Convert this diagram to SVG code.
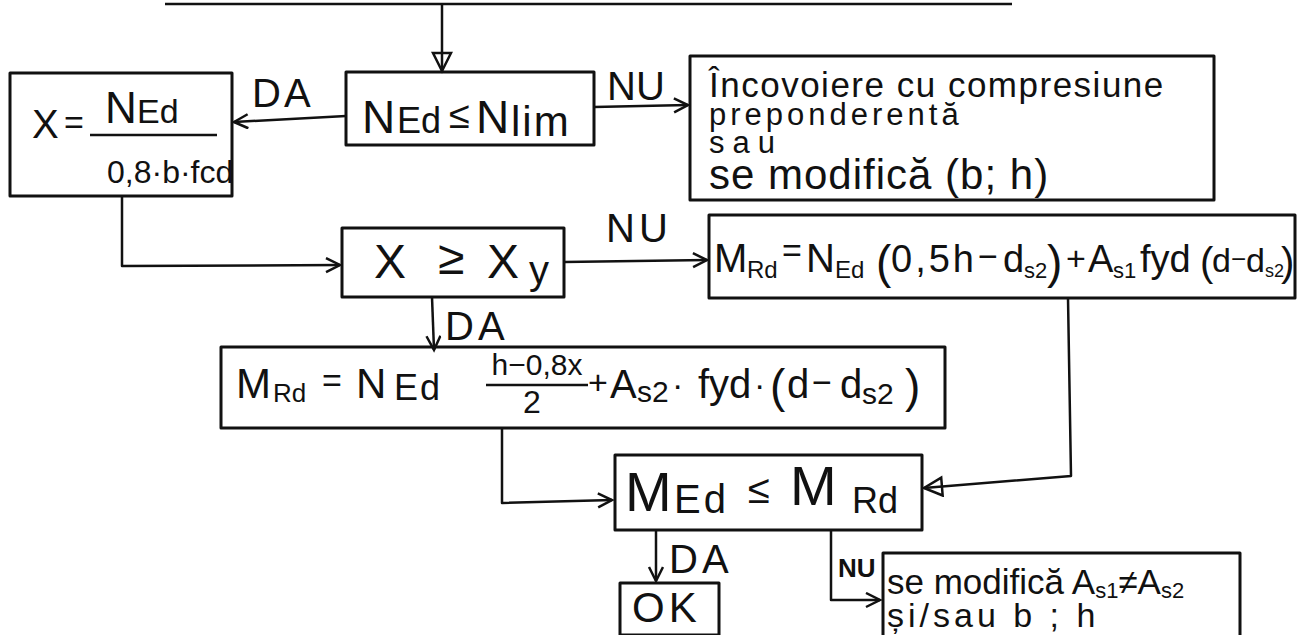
<svg xmlns="http://www.w3.org/2000/svg" width="1310" height="635" viewBox="0 0 1310 635">
<style>
.bx{fill:none;stroke:#111;stroke-width:3;stroke-linejoin:round}
.cn{fill:none;stroke:#111;stroke-width:2.5;stroke-linejoin:round}
text{font-family:"Liberation Sans",Arial,sans-serif;fill:#111}
.lbl{font-size:40px}
</style>
<defs>
<marker id="chev" markerUnits="userSpaceOnUse" markerWidth="20" markerHeight="20" refX="15" refY="8" orient="auto">
<path d="M1,1 L15,8 L1,15" fill="none" stroke="#111" stroke-width="2.5"/>
</marker>
<marker id="tri" markerUnits="userSpaceOnUse" markerWidth="24" markerHeight="24" refX="20" refY="11" orient="auto">
<path d="M2,2 L20,11 L2,20 Z" fill="none" stroke="#111" stroke-width="2.5"/>
</marker>
</defs>
<rect width="1310" height="635" fill="#fff"/>

<g id="connectors">
<path class="cn" d="M165,4 L1012,4" stroke-width="3"/>
<path class="cn" d="M442,5 L442,71" marker-end="url(#tri)"/>
<path class="cn" d="M346,116 L234,122" marker-end="url(#chev)"/>
<text class="lbl" x="252" y="107" letter-spacing="3">DA</text>
<path class="cn" d="M594,107 L688,105" marker-end="url(#chev)"/>
<text class="lbl" x="607" y="100">NU</text>
<path class="cn" d="M122,197 L122,266 L340,265" marker-end="url(#chev)"/>
<path class="cn" d="M564,262 L707,260" marker-end="url(#chev)"/>
<text class="lbl" x="606" y="242" letter-spacing="4">NU</text>
<path class="cn" d="M432,297 L434,350" marker-end="url(#chev)"/>
<text class="lbl" x="445" y="340" letter-spacing="4">DA</text>
<path class="cn" d="M502,428 L502,503 L612,500" marker-end="url(#chev)"/>
<path class="cn" d="M1068,298 L1071,476 L924,488" marker-end="url(#tri)"/>
<path class="cn" d="M656,530 L656,581" marker-end="url(#chev)"/>
<text x="669" y="573" font-size="40" letter-spacing="4">DA</text>
<path class="cn" d="M831,530 L831,600 L880,600" marker-end="url(#chev)"/>
<text x="838" y="577" font-size="26" font-weight="bold">NU</text>
</g>

<g id="node-nlim">
<rect class="bx" x="346" y="72" width="248" height="73"/>
<text x="362" y="133" font-size="46">N</text>
<text x="397" y="133" font-size="36">Ed</text>
<text x="449" y="128" font-size="38">≤</text>
<text x="476" y="133" font-size="46">N</text>
<text x="511" y="136" font-size="42" letter-spacing="2">lim</text>
</g>

<g id="node-x">
<rect class="bx" x="10" y="73" width="222" height="123"/>
<text x="32" y="138" font-size="40">X</text>
<text x="64" y="134" font-size="34">=</text>
<text x="105" y="123" font-size="44">N</text>
<text x="137" y="123" font-size="34">Ed</text>
<path class="cn" d="M90,135 L217,135"/>
<text x="107" y="183" font-size="32">0,8·b·fcd</text>
</g>

<g id="node-compresiune">
<rect class="bx" x="690" y="56" width="524" height="144"/>
<text x="709" y="97" font-size="35" letter-spacing="1.5">Încovoiere cu compresiune</text>
<text x="709" y="125" font-size="31" letter-spacing="4">preponderentă</text>
<text x="709" y="153" font-size="31" letter-spacing="8">sau</text>
<text x="709" y="189" font-size="42" letter-spacing="1">se modifică (b; h)</text>
</g>

<g id="node-xy">
<rect class="bx" x="342" y="228" width="222" height="69"/>
<text x="374" y="278" font-size="48">X</text>
<text x="438" y="274" font-size="48">≥</text>
<text x="487" y="278" font-size="48">X</text>
<text x="529" y="284" font-size="40">y</text>
</g>

<g id="node-mrd1">
<rect class="bx" x="709" y="215" width="586" height="83"/>
<text x="714" y="272" font-size="40">M</text>
<text x="747" y="278" font-size="24">Rd</text>
<text x="782" y="262" font-size="34">=</text>
<text x="806" y="272" font-size="40">N</text>
<text x="835" y="278" font-size="24">Ed</text>
<text x="876" y="278" font-size="46">(</text>
<text x="891" y="272" font-size="38" letter-spacing="3">0,5h</text>
<text x="978" y="268" font-size="34">−</text>
<text x="1003" y="272" font-size="38">d</text>
<text x="1024" y="278" font-size="22">s2</text>
<text x="1047" y="278" font-size="46">)</text>
<text x="1066" y="270" font-size="34">+</text>
<text x="1088" y="272" font-size="38">A</text>
<text x="1113" y="278" font-size="22">s1</text>
<text x="1140" y="272" font-size="38">fyd</text>
<text x="1200" y="276" font-size="40">(</text>
<text x="1212" y="272" font-size="34">d</text>
<text x="1231" y="268" font-size="26">−</text>
<text x="1246" y="272" font-size="34">d</text>
<text x="1265" y="277" font-size="18">s2</text>
<text x="1281" y="276" font-size="40">)</text>
</g>

<g id="node-mrd2">
<rect class="bx" x="221" y="347" width="724" height="81"/>
<text x="236" y="398" font-size="42">M</text>
<text x="273" y="402" font-size="26">Rd</text>
<text x="322" y="392" font-size="34">=</text>
<text x="356" y="398" font-size="42">N</text>
<text x="394" y="400" font-size="36" letter-spacing="2">Ed</text>
<text x="537" y="375" font-size="30" text-anchor="middle">h−0,8x</text>
<path class="cn" d="M486,385 L588,385" stroke-width="2"/>
<text x="532" y="413" font-size="32" text-anchor="middle">2</text>
<text x="588" y="394" font-size="34">+</text>
<text x="610" y="398" font-size="40">A</text>
<text x="637" y="402" font-size="30">s2</text>
<text x="672" y="396" font-size="34">·</text>
<text x="698" y="398" font-size="40">fyd</text>
<text x="754" y="396" font-size="34">·</text>
<text x="770" y="402" font-size="46">(</text>
<text x="787" y="398" font-size="40">d</text>
<text x="812" y="394" font-size="34">−</text>
<text x="840" y="398" font-size="40">d</text>
<text x="862" y="404" font-size="30">s2</text>
<text x="905" y="402" font-size="46">)</text>
</g>

<g id="node-check">
<rect class="bx" x="615" y="455" width="307" height="75"/>
<text x="625" y="511" font-size="56">M</text>
<text x="674" y="513" font-size="40" letter-spacing="3">Ed</text>
<text x="748" y="503" font-size="40">≤</text>
<text x="790" y="505" font-size="56">M</text>
<text x="852" y="513" font-size="36">Rd</text>
</g>

<g id="node-ok">
<rect class="bx" x="620" y="583" width="99" height="52"/>
<text x="632" y="622" font-size="42" letter-spacing="4">OK</text>
</g>

<g id="node-modify">
<rect class="bx" x="883" y="553" width="357" height="90"/>
<text x="887" y="594" font-size="35">se modifică A<tspan font-size="22" dy="4">s1</tspan><tspan dy="-4">≠A</tspan><tspan font-size="22" dy="4">s2</tspan></text>
<text x="887" y="627" font-size="34" letter-spacing="4">și/sau b ; h</text>
</g>
</svg>
